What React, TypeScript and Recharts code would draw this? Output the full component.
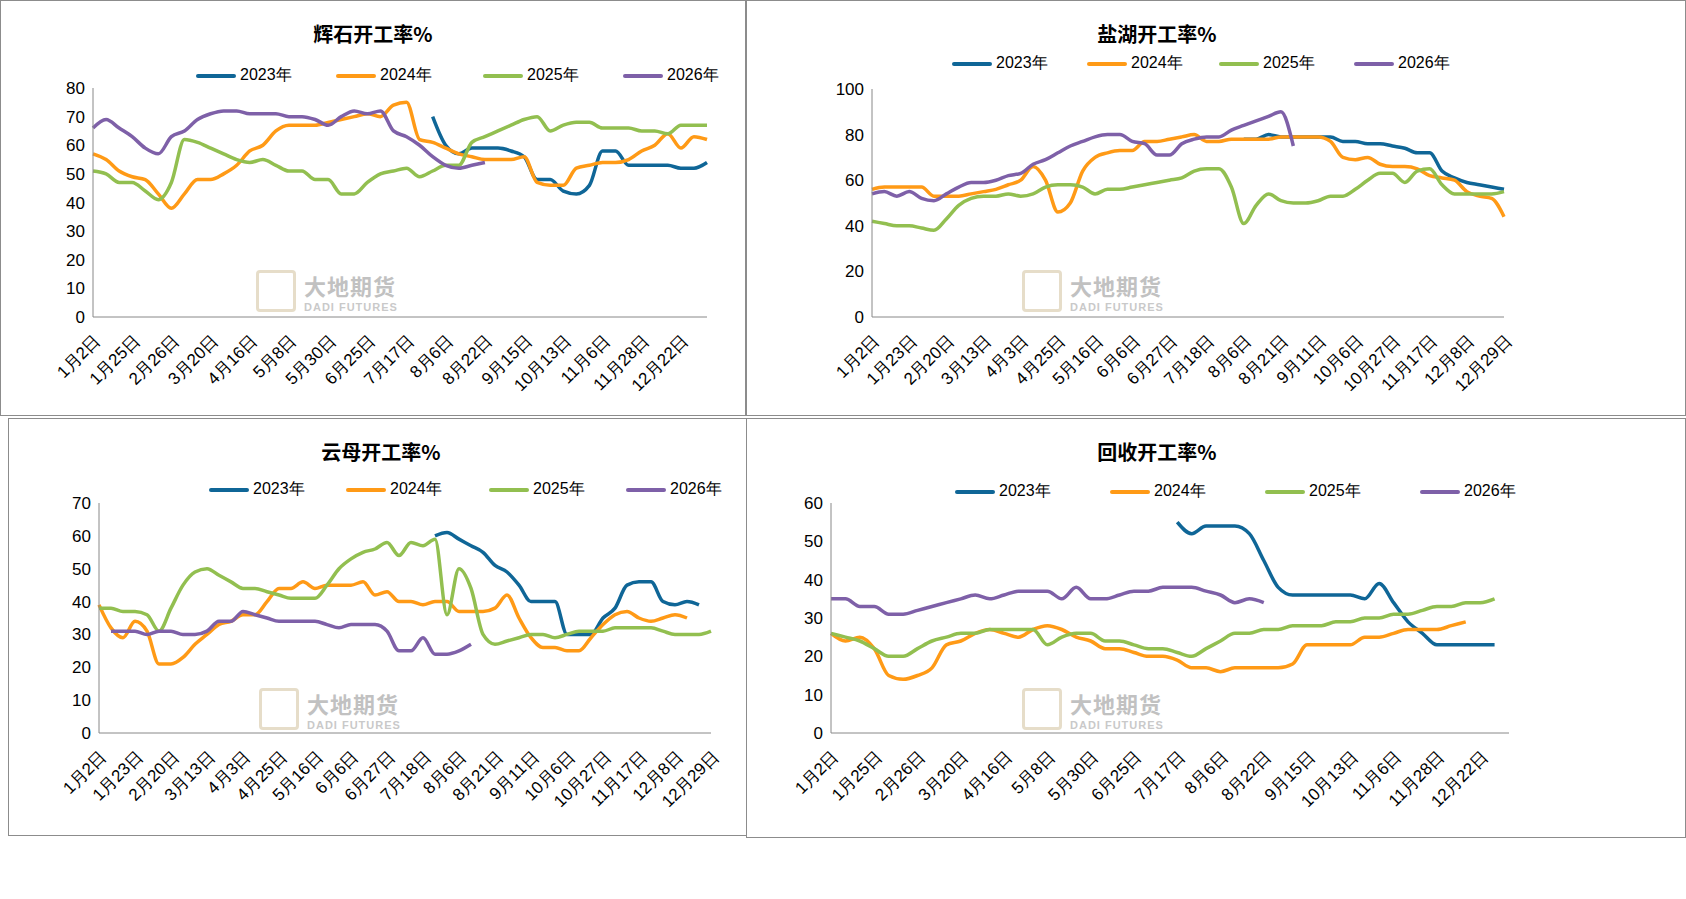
import React from "react";
import { LineChart, Line, XAxis, YAxis } from "recharts";

const n = null;

// 辉石
const pyroxeneTicks = ["1月2日", "1月25日", "2月26日", "3月20日", "4月16日", "5月8日", "5月30日", "6月25日", "7月17日", "8月6日", "8月22日", "9月15日", "10月13日", "11月6日", "11月28日", "12月22日"];
const pyroxene2023 = [n, n, n, n, n, n, n, n, n, n, n, n, n, n, n, n, n, n, n, n, n, n, n, n, n, n, 70, 60, 57, 59, 59, 59, 58, 56, 48, 48, 44, 43, 46, 58, 58, 53, 53, 53, 53, 52, 52, 54];
const pyroxene2024 = [57, 55, 51, 49, 48, 43, 38, 43, 48, 48, 50, 53, 58, 60, 65, 67, 67, 67, 68, 69, 70, 71, 70, 74, 75, 62, 61, 59, 57, 56, 55, 55, 55, 56, 47, 46, 46, 52, 53, 54, 54, 55, 58, 60, 64, 59, 63, 62];
const pyroxene2025 = [51, 50, 47, 47, 44, 41, 47, 62, 61, 59, 57, 55, 54, 55, 53, 51, 51, 48, 48, 43, 43, 47, 50, 51, 52, 49, 51, 53, 53, 61, 63, 65, 67, 69, 70, 65, 67, 68, 68, 66, 66, 66, 65, 65, 64, 67, 67, 67];
const pyroxene2026 = [66, 69, 66, 63, 59, 57, 63, 65, 69, 71, 72, 72, 71, 71, 71, 70, 70, 69, 67, 70, 72, 71, 72, 65, 63, 60, 56, 53, 52, 53, 54];

// 盐湖 / 云母
const lakeTicks = ["1月2日", "1月23日", "2月20日", "3月13日", "4月3日", "4月25日", "5月16日", "6月6日", "6月27日", "7月18日", "8月6日", "8月21日", "9月11日", "10月6日", "10月27日", "11月17日", "12月8日", "12月29日"];
const lake2023 = [n, n, n, n, n, n, n, n, n, n, n, n, n, n, n, n, n, n, n, n, n, n, n, n, n, n, n, n, n, n, 78, 78, 80, 79, 79, 79, 79, 79, 77, 77, 76, 76, 75, 74, 72, 72, 64, 61, 59, 58, 57, 56];
const lake2024 = [56, 57, 57, 57, 57, 53, 53, 53, 54, 55, 56, 58, 60, 66, 60, 46, 50, 64, 70, 72, 73, 73, 77, 77, 78, 79, 80, 77, 77, 78, 78, 78, 78, 79, 79, 79, 79, 77, 70, 69, 70, 67, 66, 66, 65, 62, 61, 60, 55, 53, 52, 44];
const lake2025 = [42, 41, 40, 40, 39, 38, 43, 49, 52, 53, 53, 54, 53, 54, 57, 58, 58, 57, 54, 56, 56, 57, 58, 59, 60, 61, 64, 65, 65, 57, 41, 49, 54, 51, 50, 50, 51, 53, 53, 56, 60, 63, 63, 59, 64, 65, 58, 54, 54, 54, 54, 55];
const lake2026 = [54, 55, 53, 55, 52, 51, 54, 57, 59, 59, 60, 62, 63, 67, 69, 72, 75, 77, 79, 80, 80, 77, 76, 71, 71, 76, 78, 79, 79, 82, 84, 86, 88, 90, 75];

const mica2023 = [n, n, n, n, n, n, n, n, n, n, n, n, n, n, n, n, n, n, n, n, n, n, n, n, n, n, n, n, 60, 61, 59, 57, 55, 51, 49, 45, 40, 40, 40, 30, 30, 30, 35, 38, 45, 46, 46, 40, 39, 40, 39];
const mica2024 = [39, 32, 29, 34, 31, 21, 21, 23, 27, 30, 33, 34, 36, 36, 40, 44, 44, 46, 44, 45, 45, 45, 46, 42, 43, 40, 40, 39, 40, 40, 37, 37, 37, 38, 42, 35, 29, 26, 26, 25, 25, 29, 33, 36, 37, 35, 34, 35, 36, 35];
const mica2025 = [38, 38, 37, 37, 36, 31, 38, 45, 49, 50, 48, 46, 44, 44, 43, 42, 41, 41, 41, 45, 50, 53, 55, 56, 58, 54, 58, 57, 59, 36, 50, 44, 30, 27, 28, 29, 30, 30, 29, 30, 31, 31, 31, 32, 32, 32, 32, 31, 30, 30, 30, 31];
const mica2026 = [n, 31, 31, 31, 30, 31, 31, 30, 30, 31, 34, 34, 37, 36, 35, 34, 34, 34, 34, 33, 32, 33, 33, 33, 31, 25, 25, 29, 24, 24, 25, 27];

// 回收
const recycle2023 = [n, n, n, n, n, n, n, n, n, n, n, n, n, n, n, n, n, n, n, n, n, n, n, n, 55, 52, 54, 54, 54, 52, 45, 38, 36, 36, 36, 36, 36, 35, 39, 34, 29, 26, 23, 23, 23, 23, 23];
const recycle2024 = [26, 24, 25, 22, 15, 14, 15, 17, 23, 24, 26, 27, 26, 25, 27, 28, 27, 25, 24, 22, 22, 21, 20, 20, 19, 17, 17, 16, 17, 17, 17, 17, 18, 23, 23, 23, 23, 25, 25, 26, 27, 27, 27, 28, 29];
const recycle2025 = [26, 25, 24, 22, 20, 20, 22, 24, 25, 26, 26, 27, 27, 27, 27, 23, 25, 26, 26, 24, 24, 23, 22, 22, 21, 20, 22, 24, 26, 26, 27, 27, 28, 28, 28, 29, 29, 30, 30, 31, 31, 32, 33, 33, 34, 34, 35];
const recycle2026 = [35, 35, 33, 33, 31, 31, 32, 33, 34, 35, 36, 35, 36, 37, 37, 37, 35, 38, 35, 35, 36, 37, 37, 38, 38, 38, 37, 36, 34, 35, 34];

const years = ["2023年", "2024年", "2025年", "2026年"];
const colors = ["#0F6697", "#FF9A16", "#92BF50", "#7E60A8"];

function build(series: (number | null)[][]) {
  const len = Math.max(...series.map((s) => s.length));
  return Array.from({ length: len }, (_, i) => {
    const row: any = { i };
    series.forEach((s, k) => {
      row["y" + k] = s[i] ?? null;
    });
    return row;
  });
}

const font = "'Liberation Sans', Arial, sans-serif";

type PanelProps = {
  title: string;
  box: { left: number; top: number; width: number; height: number };
  series: (number | null)[][];
  ticks: string[];
  yMax: number;
  margin: { top: number; left: number; right: number; bottom: number };
  domainMax: number;
  legendX: number[];
  legendY: number;
  titleX: number;
  mark: { x: number; y: number };
};

function Panel(p: PanelProps) {
  const data = build(p.series);
  const yTicks = Array.from({ length: p.yMax / 10 + 1 }, (_, i) => i * 10);
  const xTicks = p.ticks.map((_, i) => i * 3);
  return (
    <div
      style={{
        position: "absolute",
        left: p.box.left,
        top: p.box.top,
        width: p.box.width,
        height: p.box.height,
        border: "1px solid #8c8c8c",
        boxSizing: "border-box",
        background: "#fff",
      }}
    >
      <div
        style={{
          position: "absolute",
          top: 18,
          left: p.titleX - 150,
          width: 300,
          textAlign: "center",
          fontFamily: "'Noto Sans CJK SC', serif",
          fontWeight: 700,
          fontSize: 20,
        }}
      >
        {p.title}
      </div>
      {years.map((y, k) => (
        <div
          key={y}
          style={{ position: "absolute", left: p.legendX[k], top: p.legendY, display: "flex", alignItems: "center", fontFamily: font, fontSize: 16 }}
        >
          <div style={{ width: 40, height: 4, background: colors[k], borderRadius: 2, marginRight: 4 }} />
          <span>{y}</span>
        </div>
      ))}
      <div style={{ position: "absolute", left: p.mark.x, top: p.mark.y, display: "flex", alignItems: "center", opacity: 0.45 }}>
        <div style={{ width: 34, height: 36, border: "3px solid #c9b58a", borderRadius: 4, marginRight: 8 }} />
        <div>
          <div style={{ fontFamily: "'Noto Sans CJK SC'", fontWeight: 700, fontSize: 22, color: "#777", letterSpacing: 1 }}>大地期货</div>
          <div style={{ fontFamily: font, fontWeight: 700, fontSize: 11, color: "#888", letterSpacing: 1 }}>DADI FUTURES</div>
        </div>
      </div>
      <div style={{ position: "absolute", left: 0, top: 0 }}>
        <LineChart width={p.box.width} height={p.box.height} data={data} margin={p.margin}>
          <XAxis
            dataKey="i"
            type="number"
            domain={[0, p.domainMax]}
            ticks={xTicks}
            interval={0}
            tickFormatter={(v) => p.ticks[v / 3]}
            angle={-45}
            textAnchor="end"
            height={90}
            tickLine={false}
            tickMargin={10}
            stroke="#888"
            tick={{ fill: "#000", fontSize: 17, fontFamily: font }}
          />
          <YAxis
            domain={[0, p.yMax]}
            ticks={yTicks}
            width={40}
            tickLine={false}
            stroke="#888"
            tick={{ fill: "#000", fontSize: 17, fontFamily: font }}
          />
          {p.series.map((_, k) => (
            <Line
              key={k}
              dataKey={"y" + k}
              type="monotone"
              stroke={colors[k]}
              strokeWidth={3.5}
              dot={false}
              isAnimationActive={false}
              connectNulls={false}
            />
          ))}
        </LineChart>
      </div>
    </div>
  );
}

export default function App() {
  return (
    <div style={{ position: "absolute", left: 0, top: 0, width: 1686, height: 899, background: "#fff", overflow: "hidden" }}>
      <Panel
        title="辉石开工率%"
        box={{ left: 0, top: 0, width: 746, height: 416 }}
        series={[pyroxene2023, pyroxene2024, pyroxene2025, pyroxene2026]}
        ticks={pyroxeneTicks}
        yMax={80}
        domainMax={47}
        margin={{ top: 87, left: 52, right: 40, bottom: 10 }}
        legendX={[195, 335, 482, 622]}
        legendY={64}
        titleX={372}
        mark={{ x: 255, y: 268 }}
      />
      <Panel
        title="盐湖开工率%"
        box={{ left: 746, top: 0, width: 940, height: 416 }}
        series={[lake2023, lake2024, lake2025, lake2026]}
        ticks={lakeTicks}
        yMax={100}
        domainMax={51}
        margin={{ top: 88, left: 85, right: 183, bottom: 10 }}
        legendX={[205, 340, 472, 607]}
        legendY={52}
        titleX={410}
        mark={{ x: 275, y: 268 }}
      />
      <Panel
        title="云母开工率%"
        box={{ left: 8, top: 418, width: 740, height: 418 }}
        series={[mica2023, mica2024, mica2025, mica2026]}
        ticks={lakeTicks}
        yMax={70}
        domainMax={51}
        margin={{ top: 84, left: 50, right: 38, bottom: 14 }}
        legendX={[200, 337, 480, 617]}
        legendY={60}
        titleX={372}
        mark={{ x: 250, y: 268 }}
      />
      <Panel
        title="回收开工率%"
        box={{ left: 746, top: 418, width: 940, height: 420 }}
        series={[recycle2023, recycle2024, recycle2025, recycle2026]}
        ticks={pyroxeneTicks}
        yMax={60}
        domainMax={47}
        margin={{ top: 84, left: 44, right: 178, bottom: 16 }}
        legendX={[208, 363, 518, 673]}
        legendY={62}
        titleX={410}
        mark={{ x: 275, y: 268 }}
      />
    </div>
  );
}
